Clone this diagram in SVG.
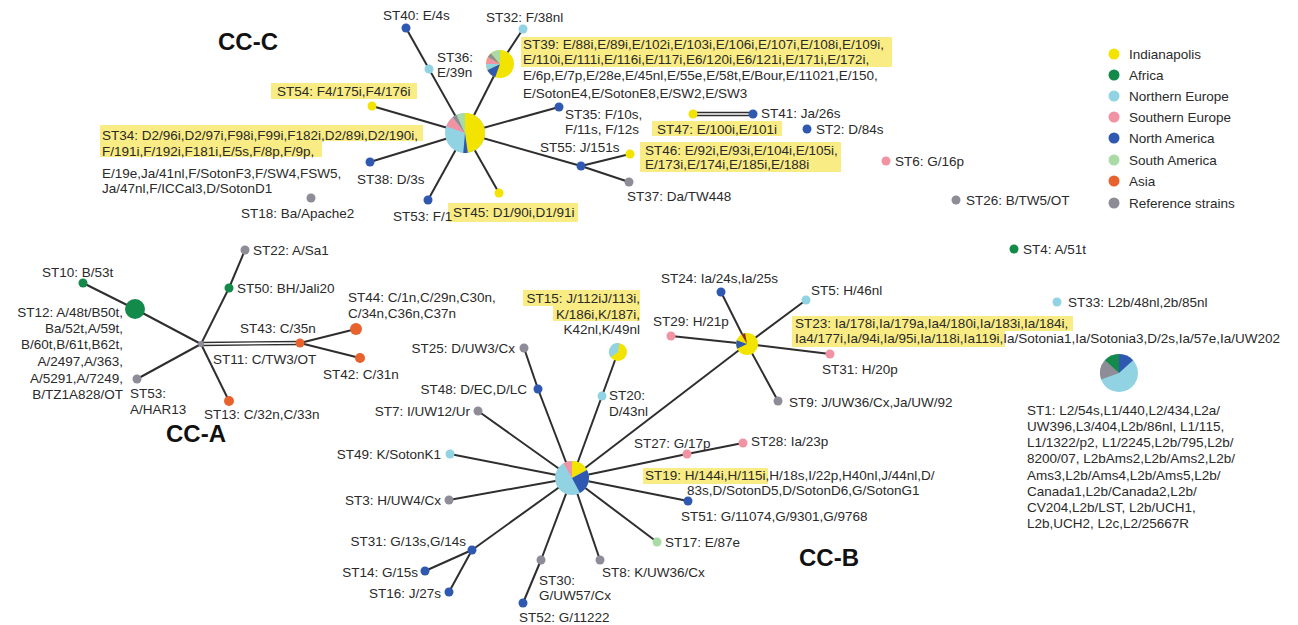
<svg xmlns="http://www.w3.org/2000/svg" width="1298" height="625" viewBox="0 0 1298 625">
<style>
text{font-family:"Liberation Sans",Arial,sans-serif;font-size:13.5px;fill:#2a2a2a}
.t{font-size:24px;font-weight:bold;fill:#111}
.e{stroke:#2e2e2e;stroke-width:2;fill:none}
.hl{fill:#f9ec84}
.ind{fill:#f2e400}.afr{fill:#13894a}.neu{fill:#92d3e3}.seu{fill:#f293a3}.nam{fill:#2f59b0}.sam{fill:#aadba6}.asi{fill:#e8622e}.ref{fill:#8d8c97}.mar{fill:#8b2a2a}
.end{text-anchor:end}
</style>
<rect width="1298" height="625" fill="#fff"/>

<g id="highlights">
<rect class="hl" x="521" y="37" width="371" height="30"/>
<rect class="hl" x="271" y="83" width="146" height="16"/>
<rect class="hl" x="100" y="125" width="323" height="16"/>
<rect class="hl" x="100" y="141" width="222" height="16"/>
<rect class="hl" x="652" y="121" width="130" height="15"/>
<rect class="hl" x="640" y="142" width="201" height="30"/>
<rect class="hl" x="448" y="203" width="130" height="19"/>
<rect class="hl" x="523" y="290" width="117" height="16"/>
<rect class="hl" x="553" y="306" width="87" height="15"/>
<rect class="hl" x="792" y="316" width="281" height="15"/>
<rect class="hl" x="792" y="331" width="213" height="16"/>
<rect class="hl" x="643" y="468" width="125" height="16"/>
</g>

<g id="connectors">
<line class="e" x1="465" y1="133" x2="500" y2="64"/>
<line class="e" x1="500" y1="64" x2="523" y2="29"/>
<line class="e" x1="465" y1="133" x2="429" y2="69"/>
<line class="e" x1="429" y1="69" x2="406" y2="28"/>
<line class="e" x1="465" y1="133" x2="372" y2="106"/>
<line class="e" x1="465" y1="133" x2="370" y2="162"/>
<line class="e" x1="465" y1="133" x2="428" y2="200"/>
<line class="e" x1="465" y1="133" x2="499" y2="193"/>
<line class="e" x1="465" y1="133" x2="559" y2="107"/>
<line class="e" x1="465" y1="133" x2="581" y2="166"/>
<line class="e" x1="581" y1="166" x2="630" y2="154"/>
<line class="e" x1="581" y1="166" x2="629" y2="182"/>
<line class="e" style="stroke-width:1.3" x1="693" y1="112.5" x2="753" y2="112.5"/>
<line class="e" style="stroke-width:1.3" x1="693" y1="115.5" x2="753" y2="115.5"/>

<line class="e" x1="201" y1="344" x2="135" y2="309"/>
<line class="e" x1="135" y1="309" x2="83" y2="283"/>
<line class="e" x1="201" y1="344" x2="137" y2="379"/>
<line class="e" x1="201" y1="344" x2="229" y2="401"/>
<line class="e" x1="201" y1="344" x2="229" y2="288"/>
<line class="e" x1="229" y1="288" x2="245" y2="250"/>
<line class="e" style="stroke-width:1.3" x1="201" y1="342.5" x2="300" y2="341.5"/>
<line class="e" style="stroke-width:1.3" x1="201" y1="345.5" x2="300" y2="344.5"/>
<line class="e" x1="300" y1="343" x2="356" y2="329"/>
<line class="e" x1="300" y1="343" x2="360" y2="358"/>

<line class="e" x1="572" y1="478" x2="538" y2="389"/>
<line class="e" x1="538" y1="389" x2="524" y2="348"/>
<line class="e" x1="572" y1="478" x2="602" y2="396"/>
<line class="e" x1="602" y1="396" x2="618" y2="352"/>
<line class="e" x1="572" y1="478" x2="747" y2="344"/>
<line class="e" x1="572" y1="478" x2="478" y2="411"/>
<line class="e" x1="572" y1="478" x2="450" y2="454"/>
<line class="e" x1="572" y1="478" x2="449" y2="500"/>
<line class="e" x1="572" y1="478" x2="472" y2="550"/>
<line class="e" x1="472" y1="550" x2="425" y2="571"/>
<line class="e" x1="472" y1="550" x2="449" y2="592"/>
<line class="e" x1="572" y1="478" x2="541" y2="560"/>
<line class="e" x1="541" y1="560" x2="523" y2="603"/>
<line class="e" x1="572" y1="478" x2="600" y2="560"/>
<line class="e" x1="572" y1="478" x2="657" y2="542"/>
<line class="e" x1="572" y1="478" x2="688" y2="501"/>
<line class="e" x1="572" y1="478" x2="687" y2="454"/>
<line class="e" x1="687" y1="454" x2="743" y2="443"/>
<line class="e" x1="747" y1="344" x2="721" y2="292"/>
<line class="e" x1="747" y1="344" x2="806" y2="300"/>
<line class="e" x1="747" y1="344" x2="671" y2="336"/>
<line class="e" x1="747" y1="344" x2="830" y2="354"/>
<line class="e" x1="747" y1="344" x2="778" y2="401"/>
</g>

<g id="titles">
<text class="t" x="218" y="50">CC-C</text>
<text class="t" x="166" y="442">CC-A</text>
<text class="t" x="799" y="566">CC-B</text>
</g>

<g id="ST34">
<circle class="neu" cx="465" cy="133" r="20"/>
<path class="ind" d="M465 133L465 113A20 20 0 0 1 467.78 152.81Z"/>
<path class="nam" d="M465 133L467.78 152.81A20 20 0 0 1 463.26 152.92Z"/>
<path class="seu" d="M465 133L446.21 126.16A20 20 0 0 1 452.69 117.24Z"/>
<path class="ref" d="M465 133L452.69 117.24A20 20 0 0 1 456.55 114.87Z"/>
<path class="sam" d="M465 133L456.55 114.87A20 20 0 0 1 465 113Z"/>
<text x="102" y="140">ST34: D2/96i,D2/97i,F98i,F99i,F182i,D2/89i,D2/190i,</text>
<text x="102" y="156">F/191i,F/192i,F181i,E/5s,F/8p,F/9p,</text>
<text x="102" y="178">E/19e,Ja/41nl,F/SotonF3,F/SW4,FSW5,</text>
<text x="102" y="193">Ja/47nl,F/ICCal3,D/SotonD1</text>
</g>
<g id="ST39">
<circle class="ind" cx="500" cy="64" r="14"/>
<path class="nam" d="M500 64L495.21 77.16A14 14 0 0 1 487.31 69.92Z"/>
<path class="neu" d="M500 64L487.31 69.92A14 14 0 0 1 486 64Z"/>
<path class="seu" d="M500 64L486 64A14 14 0 0 1 487.88 57Z"/>
<path class="ref" d="M500 64L487.88 57A14 14 0 0 1 491 53.28Z"/>
<path class="sam" d="M500 64L491 53.28A14 14 0 0 1 500 50Z"/>
<text x="523" y="49">ST39: E/88i,E/89i,E/102i,E/103i,E/106i,E/107i,E/108i,E/109i,</text>
<text x="523" y="64">E/110i,E/111i,E/116i,E/117i,E6/120i,E6/121i,E/171i,E/172i,</text>
<text x="523" y="80">E/6p,E/7p,E/28e,E/45nl,E/55e,E/58t,E/Bour,E/11021,E/150,</text>
<text x="523" y="98">E/SotonE4,E/SotonE8,E/SW2,E/SW3</text>
</g>
<g id="ST32"><circle class="neu" cx="523" cy="29" r="4.5"/><text x="486" y="22">ST32: F/38nl</text></g>
<g id="ST36"><circle class="neu" cx="429" cy="69" r="4.5"/><text x="437" y="62">ST36:</text><text x="437" y="77">E/39n</text></g>
<g id="ST40"><circle class="nam" cx="406" cy="28" r="4.5"/><text x="383" y="20">ST40: E/4s</text></g>
<g id="ST54"><circle class="ind" cx="372" cy="106" r="4.5"/><text x="277" y="96">ST54: F4/175i,F4/176i</text></g>
<g id="ST38"><circle class="nam" cx="370" cy="162" r="4.5"/><text x="357" y="184">ST38: D/3s</text></g>
<g id="ST53C"><circle class="nam" cx="428" cy="200" r="4.5"/><text x="393" y="221">ST53: F/1</text></g>
<g id="ST18"><circle class="ref" cx="311" cy="198" r="4.5"/><text x="241" y="218">ST18: Ba/Apache2</text></g>
<g id="ST45"><circle class="ind" cx="499" cy="193" r="4.5"/><text x="453" y="217">ST45: D1/90i,D1/91i</text></g>
<g id="ST35"><circle class="nam" cx="559" cy="107" r="4.5"/><text x="565" y="119">ST35: F/10s,</text><text x="565" y="134">F/11s, F/12s</text></g>
<g id="ST55"><circle class="nam" cx="581" cy="166" r="4.5"/><text x="540" y="152">ST55: J/151s</text></g>
<g id="ST46"><circle class="ind" cx="630" cy="154" r="4.5"/><text x="645" y="155">ST46: E/92i,E/93i,E/104i,E/105i,</text><text x="645" y="169">E/173i,E/174i,E/185i,E/188i</text></g>
<g id="ST37"><circle class="ref" cx="629" cy="182" r="4.5"/><text x="627" y="201">ST37: Da/TW448</text></g>
<g id="ST47"><circle class="ind" cx="693" cy="114" r="4.5"/><text x="657" y="134">ST47: E/100i,E/101i</text></g>
<g id="ST41"><circle class="nam" cx="753" cy="114" r="4.5"/><text x="761" y="118">ST41: Ja/26s</text></g>
<g id="ST2"><circle class="nam" cx="807" cy="129" r="4.5"/><text x="816" y="134">ST2: D/84s</text></g>
<g id="ST6"><circle class="seu" cx="886" cy="161" r="4.5"/><text x="895" y="166">ST6: G/16p</text></g>
<g id="ST26"><circle class="ref" cx="956" cy="200" r="4.5"/><text x="966" y="205">ST26: B/TW5/OT</text></g>
<g id="ST4"><circle class="afr" cx="1014" cy="249" r="4.5"/><text x="1023" y="254">ST4: A/51t</text></g>
<g id="ST33"><circle class="neu" cx="1057" cy="302" r="4.5"/><text x="1068" y="307">ST33: L2b/48nl,2b/85nl</text></g>
<g id="ST1">
<circle class="neu" cx="1119" cy="373" r="19"/>
<path class="ref" d="M1119 373L1101.15 379.5A19 19 0 0 1 1104.88 360.29Z"/>
<path class="afr" d="M1119 373L1104.88 360.29A19 19 0 0 1 1119 354Z"/>
<path class="nam" d="M1119 373L1119 354A19 19 0 0 1 1133.12 360.29Z"/>
<text x="1027" y="415">ST1: L2/54s,L1/440,L2/434,L2a/</text>
<text x="1027" y="431">UW396,L3/404,L2b/86nl, L1/115,</text>
<text x="1027" y="447">L1/1322/p2, L1/2245,L2b/795,L2b/</text>
<text x="1027" y="463">8200/07, L2bAms2,L2b/Ams2,L2b/</text>
<text x="1027" y="480">Ams3,L2b/Ams4,L2b/Ams5,L2b/</text>
<text x="1027" y="496">Canada1,L2b/Canada2,L2b/</text>
<text x="1027" y="512">CV204,L2b/LST, L2b/UCH1,</text>
<text x="1027" y="528">L2b,UCH2, L2c,L2/25667R</text>
</g>

<g id="legend">
<circle class="ind" cx="1114" cy="54" r="5.5"/><text x="1129" y="59">Indianapolis</text>
<circle class="afr" cx="1114" cy="75" r="5.5"/><text x="1129" y="80">Africa</text>
<circle class="neu" cx="1114" cy="96" r="5.5"/><text x="1129" y="101">Northern Europe</text>
<circle class="seu" cx="1114" cy="117" r="5.5"/><text x="1129" y="122">Southern Europe</text>
<circle class="nam" cx="1114" cy="138" r="5.5"/><text x="1129" y="143">North America</text>
<circle class="sam" cx="1114" cy="160" r="5.5"/><text x="1129" y="165">South America</text>
<circle class="asi" cx="1114" cy="181" r="5.5"/><text x="1129" y="186">Asia</text>
<circle class="ref" cx="1114" cy="203" r="5.5"/><text x="1129" y="208">Reference strains</text>
</g>

<g id="ST11"><circle class="ref" cx="201" cy="344" r="3"/><text x="213" y="364">ST11: C/TW3/OT</text></g>
<g id="ST12"><circle class="afr" cx="135" cy="309" r="10"/>
<text class="end" x="123" y="317">ST12: A/48t/B50t,</text>
<text class="end" x="123" y="333">Ba/52t,A/59t,</text>
<text class="end" x="123" y="349">B/60t,B/61t,B62t,</text>
<text class="end" x="123" y="366">A/2497,A/363,</text>
<text class="end" x="123" y="383">A/5291,A/7249,</text>
<text class="end" x="123" y="399">B/TZ1A828/OT</text></g>
<g id="ST10"><circle class="afr" cx="83" cy="283" r="4.5"/><text x="42" y="277">ST10: B/53t</text></g>
<g id="ST53A"><circle class="ref" cx="137" cy="379" r="4.5"/><text x="130" y="398">ST53:</text><text x="130" y="414">A/HAR13</text></g>
<g id="ST13"><circle class="asi" cx="229" cy="401" r="5"/><text x="204" y="419">ST13: C/32n,C/33n</text></g>
<g id="ST50"><circle class="afr" cx="229" cy="288" r="4.5"/><text x="237" y="293">ST50: BH/Jali20</text></g>
<g id="ST22"><circle class="ref" cx="245" cy="250" r="4.5"/><text x="253" y="255">ST22: A/Sa1</text></g>
<g id="ST43"><circle class="asi" cx="300" cy="343" r="4.5"/><text x="240" y="333">ST43: C/35n</text></g>
<g id="ST44"><circle class="asi" cx="356" cy="329" r="6"/><text x="348" y="302">ST44: C/1n,C/29n,C30n,</text><text x="348" y="318">C/34n,C36n,C37n</text></g>
<g id="ST42"><circle class="asi" cx="360" cy="358" r="5"/><text x="323" y="379">ST42: C/31n</text></g>

<g id="ST19">
<circle class="neu" cx="572" cy="478" r="17"/>
<path class="ind" d="M572 478L572 461A17 17 0 0 1 587.01 470.02Z"/>
<path class="nam" d="M572 478L587.01 470.02A17 17 0 0 1 579.98 493.01Z"/>
<path class="seu" d="M572 478L563.5 463.28A17 17 0 0 1 572 461Z"/>
<text x="645" y="480">ST19: H/144i,H/115i,H/18s,I/22p,H40nl,J/44nl,D/</text>
<text x="687" y="495">83s,D/SotonD5,D/SotonD6,G/SotonG1</text>
</g>
<g id="ST15">
<circle class="ind" cx="618" cy="352" r="9"/>
<path class="neu" d="M618 352L610.63 357.16A9 9 0 0 1 619.56 343.14Z"/>
<text class="end" x="640" y="303">ST15: J/112iJ/113i,</text>
<text class="end" x="640" y="319">K/186i,K/187i,</text>
<text class="end" x="640" y="334">K42nl,K/49nl</text>
</g>
<g id="ST20"><circle class="neu" cx="602" cy="396" r="4.5"/><text x="609" y="400">ST20:</text><text x="609" y="416">D/43nl</text></g>
<g id="ST25"><circle class="ref" cx="524" cy="348" r="4.5"/><text class="end" x="515" y="353">ST25: D/UW3/Cx</text></g>
<g id="ST48"><circle class="nam" cx="538" cy="389" r="4.5"/><text class="end" x="527" y="394">ST48: D/EC,D/LC</text></g>
<g id="ST7"><circle class="ref" cx="478" cy="411" r="4.5"/><text class="end" x="470" y="416">ST7: I/UW12/Ur</text></g>
<g id="ST49"><circle class="neu" cx="450" cy="454" r="4.5"/><text class="end" x="441" y="459">ST49: K/SotonK1</text></g>
<g id="ST3"><circle class="ref" cx="449" cy="500" r="4.5"/><text class="end" x="441" y="505">ST3: H/UW4/Cx</text></g>
<g id="ST31B"><circle class="nam" cx="472" cy="550" r="4.5"/><text class="end" x="466" y="546">ST31: G/13s,G/14s</text></g>
<g id="ST14"><circle class="nam" cx="425" cy="571" r="4.5"/><text class="end" x="418" y="577">ST14: G/15s</text></g>
<g id="ST16"><circle class="nam" cx="449" cy="592" r="4.5"/><text class="end" x="441" y="598">ST16: J/27s</text></g>
<g id="ST30"><circle class="ref" cx="541" cy="560" r="4.5"/><text x="539" y="585">ST30:</text><text x="539" y="600">G/UW57/Cx</text></g>
<g id="ST52"><circle class="nam" cx="523" cy="603" r="4.5"/><text x="519" y="622">ST52: G/11222</text></g>
<g id="ST8"><circle class="ref" cx="600" cy="560" r="4.5"/><text x="602" y="577">ST8: K/UW36/Cx</text></g>
<g id="ST17"><circle class="sam" cx="657" cy="542" r="4.5"/><text x="665" y="547">ST17: E/87e</text></g>
<g id="ST51"><circle class="nam" cx="688" cy="501" r="4.5"/><text x="681" y="521">ST51: G/11074,G/9301,G/9768</text></g>
<g id="ST27"><circle class="seu" cx="687" cy="454" r="4.5"/><text x="634" y="448">ST27: G/17p</text></g>
<g id="ST28"><circle class="seu" cx="743" cy="443" r="4.5"/><text x="751" y="446">ST28: Ia/23p</text></g>
<g id="ST23">
<circle class="ind" cx="747" cy="344" r="11"/>
<path class="nam" d="M747 344L737.03 348.65A11 11 0 0 1 736.66 340.24Z"/>
<path class="mar" d="M747 344L741.5 334.47A11 11 0 0 1 745.09 333.17Z"/>
<text x="795" y="328">ST23: Ia/178i,Ia/179a,Ia4/180i,Ia/183i,Ia/184i,</text>
<text x="795" y="343">Ia4/177i,Ia/94i,Ia/95i,Ia/118i,Ia119i,Ia/Sotonia1,Ia/Sotonia3,D/2s,Ia/57e,Ia/UW202</text>
</g>
<g id="ST24"><circle class="nam" cx="721" cy="292" r="4.5"/><text x="661" y="283">ST24: Ia/24s,Ia/25s</text></g>
<g id="ST5"><circle class="neu" cx="806" cy="300" r="4.5"/><text x="811" y="295">ST5: H/46nl</text></g>
<g id="ST29"><circle class="seu" cx="671" cy="336" r="4.5"/><text x="653" y="326">ST29: H/21p</text></g>
<g id="ST31C"><circle class="seu" cx="830" cy="354" r="4.5"/><text x="822" y="374">ST31: H/20p</text></g>
<g id="ST9"><circle class="ref" cx="778" cy="401" r="4.5"/><text x="789" y="407">ST9: J/UW36/Cx,Ja/UW/92</text></g>
</svg>
